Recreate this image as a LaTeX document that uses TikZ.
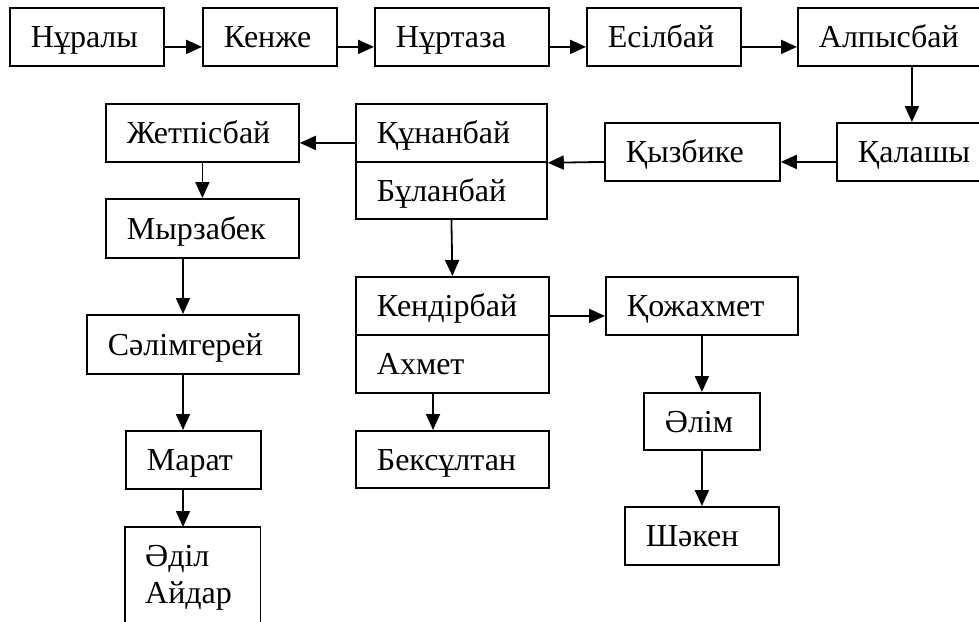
\documentclass[tikz,border=0pt]{standalone}
\usepackage{fontspec}
\setmainfont{Liberation Serif}
\usetikzlibrary{arrows.meta,calc}
\begin{document}
\begin{tikzpicture}[x=1pt,y=-1pt,
  bx/.style={draw, line width=1.8pt, anchor=north west, inner xsep=21pt, inner ysep=0pt,
    minimum height=58pt, align=left, text height=21.5pt, text depth=0pt,
    font=\fontsize{32}{37}\selectfont},
  txt/.style={anchor=base west, inner sep=0pt, font=\fontsize{32}{37}\selectfont},
  arr/.style={line width=1.8pt, -{Triangle[length=16pt,width=14pt]}},
  ln/.style={line width=1.8pt}]
\useasboundingbox (0,0) rectangle (979,621);
\clip (0,0) rectangle (979,621);
% top row
\node[bx, text width=112pt] (nur)  at (9,7)   {Нұралы};
\node[bx, text width=92pt]  (ken)  at (202,7) {Кенже};
\node[bx, text width=132pt] (nurt) at (374,7) {Нұртаза};
\node[bx, text width=112pt] (esil) at (586,7) {Есілбай};
\node[bx, text width=148pt] (alp)  at (797,7) {Алпысбай};
% second row
\node[bx, text width=108pt] (kal)  at (836,122) {Қалашы};
\node[bx, text width=133pt] (kyz)  at (604,122) {Қызбике};
\node[bx, text width=149pt] (kun)  at (355,103) {Құнанбай};
\node[bx, text width=149pt, minimum height=57pt] (bul) at (355,161) {Бұланбай};
\node[bx, text width=151pt] (zhet) at (105,103) {Жетпісбай};
% left column
\node[bx, text width=151pt, minimum height=59pt] (myr) at (105,198) {Мырзабек};
\node[bx, text width=170pt, minimum height=59pt] (sal) at (86,314)  {Сәлімгерей};
\node[bx, text width=93pt] (mar) at (125,430) {Марат};
\node[anchor=north west, inner sep=0pt, minimum width=135pt, minimum height=100pt] (adil) at (125,527) {};
\node[txt] (adil1) at (145,566) {Әділ};
\node[txt] (adil2) at (145,603) {Айдар};
% middle column
\node[bx, text width=151pt] (kend) at (355,276) {Кендірбай};
\node[bx, text width=151pt] (akh)  at (355,334) {Ахмет};
\node[bx, text width=151pt, minimum height=57pt] (bek) at (355,430) {Бексұлтан};
% right column
\node[bx, text width=150pt] (koz)  at (605,276) {Қожахмет};
\node[bx, text width=74pt, minimum height=57pt] (alim) at (643,392) {Әлім};
\node[bx, text width=112pt] (shak) at (624,506) {Шәкен};
% Adil open box
\draw[ln] (adil.south west) -- (adil.north west) -- (adil.north east) -- (adil.south east);
% coordinates for offset verticals
\coordinate (cx) at (183,0);
\coordinate (cb) at (433,0);
% connectors
\draw[arr] ([yshift=-10pt]nur.east)  -- ([yshift=-10pt]ken.west);
\draw[arr] ([yshift=-10pt]ken.east)  -- ([yshift=-10pt]nurt.west);
\draw[arr] ([yshift=-10pt]nurt.east) -- ([yshift=-10pt]esil.west);
\draw[arr] ([yshift=-10pt]esil.east) -- ([yshift=-10pt]alp.west);
\draw[arr] (alp.south -| kal.north) -- (kal.north);
\draw[arr] ([yshift=-10pt]kal.west) -- ([yshift=-10pt]kyz.east);
\draw[arr] ([yshift=-10pt]kyz.west) -- (kun.south east);
\draw[arr] ([yshift=-10pt]kun.west) -- ([yshift=-10pt]zhet.east);
\draw[arr] (zhet.south) -- (myr.north);
\draw[arr] (myr.south -| cx) -- (sal.north -| cx);
\draw[arr] (sal.south -| cx) -- (mar.north -| cx);
\draw[arr] (mar.south -| cx) -- (adil.north -| cx);
\draw[arr] (bul.south) -- (kend.north);
\draw[arr] ([yshift=-10pt]kend.east) -- ([yshift=-10pt]koz.west);
\draw[arr] (akh.south -| cb) -- (bek.north -| cb);
\draw[arr] (koz.south) -- (alim.north);
\draw[arr] (alim.south) -- (shak.north);
\end{tikzpicture}
\end{document}
